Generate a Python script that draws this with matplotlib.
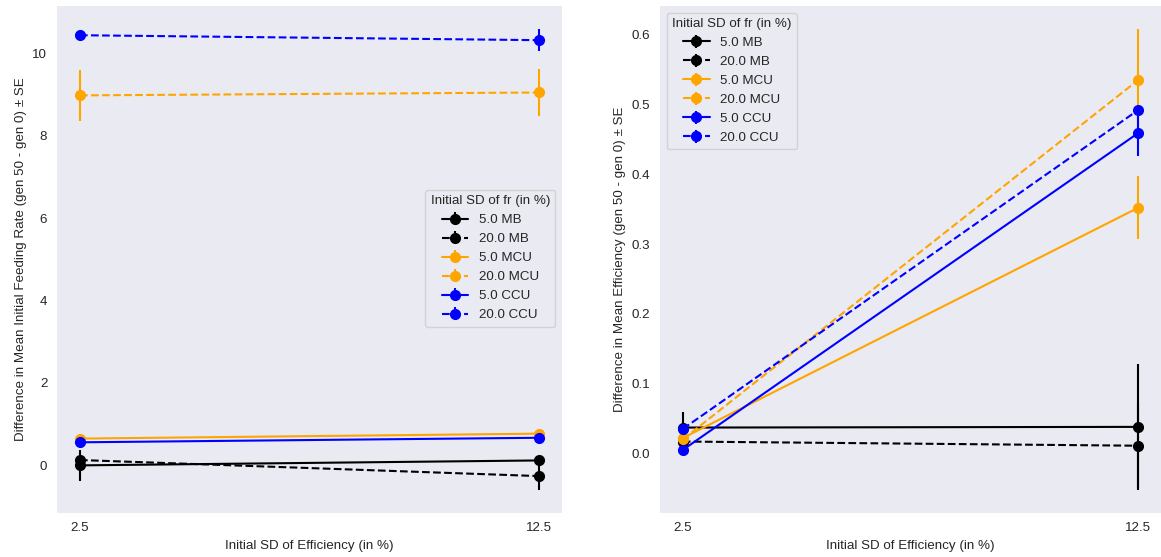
import matplotlib
matplotlib.use("Agg")
import matplotlib.pyplot as plt
import seaborn as sns
import numpy as np

sns.set_style("dark")
plt.rcParams['font.family'] = ['Liberation Sans', 'DejaVu Sans']
FS = 9.6
plt.rcParams['font.size'] = FS
plt.rcParams['xtick.labelsize'] = FS
plt.rcParams['ytick.labelsize'] = FS
plt.rcParams['axes.labelsize'] = FS

x_vals = [2.5, 12.5]
x_labels = ["2.5", "12.5"]
series_labels = ["5.0 MB", "20.0 MB", "5.0 MCU", "20.0 MCU", "5.0 CCU", "20.0 CCU"]
series_colors = ["black", "black", "orange", "orange", "blue", "blue"]
series_styles = ["-", "--", "-", "--", "-", "--"]

# Left: feeding rate
fr_mean = [[0.0, 0.12], [0.13, -0.26], [0.65, 0.77], [8.98, 9.05], [0.56, 0.67], [10.44, 10.32]]
fr_se = [[0.38, 0.05], [0.05, 0.33], [0.05, 0.05], [0.62, 0.58], [0.05, 0.06], [0.10, 0.27]]

# Right: efficiency
eff_mean = [[0.037, 0.038], [0.017, 0.011], [0.022, 0.352], [0.02, 0.535], [0.005, 0.459], [0.035, 0.492]]
eff_se = [[0.023, 0.090], [0.005, 0.061], [0.004, 0.045], [0.004, 0.073], [0.002, 0.033], [0.003, 0.005]]

fig = plt.figure(figsize=(11.61, 5.57), dpi=100)
ax1 = fig.add_axes([0.0491, 0.0795, 0.435, 0.9097])
ax2 = fig.add_axes([0.5685, 0.0795, 0.4315, 0.9097])

for ax, means, ses in [(ax1, fr_mean, fr_se), (ax2, eff_mean, eff_se)]:
    for m, s, lab, c, ls in zip(means, ses, series_labels, series_colors, series_styles):
        ax.errorbar(x_vals, m, yerr=s, color=c, linestyle=ls, marker='o',
                    markersize=7, linewidth=1.5, elinewidth=1.5, capsize=0, label=lab)
    ax.set_xticks(x_vals)
    ax.set_xticklabels(x_labels)
    ax.set_xlabel("Initial SD of Efficiency (in %)")
    for sp in ax.spines.values():
        sp.set_visible(False)

ax1.set_ylabel("Difference in Mean Initial Feeding Rate (gen 50 - gen 0) \u00b1 SE")
ax2.set_ylabel("Difference in Mean Efficiency (gen 50 - gen 0) \u00b1 SE")

ax1.legend(title="Initial SD of fr (in %)", loc='upper right', bbox_to_anchor=(1.0, 0.65),
           fontsize=FS, title_fontsize=FS)
ax2.legend(title="Initial SD of fr (in %)", loc='upper left', fontsize=FS, title_fontsize=FS)

fig.savefig("out.png", dpi=100)
